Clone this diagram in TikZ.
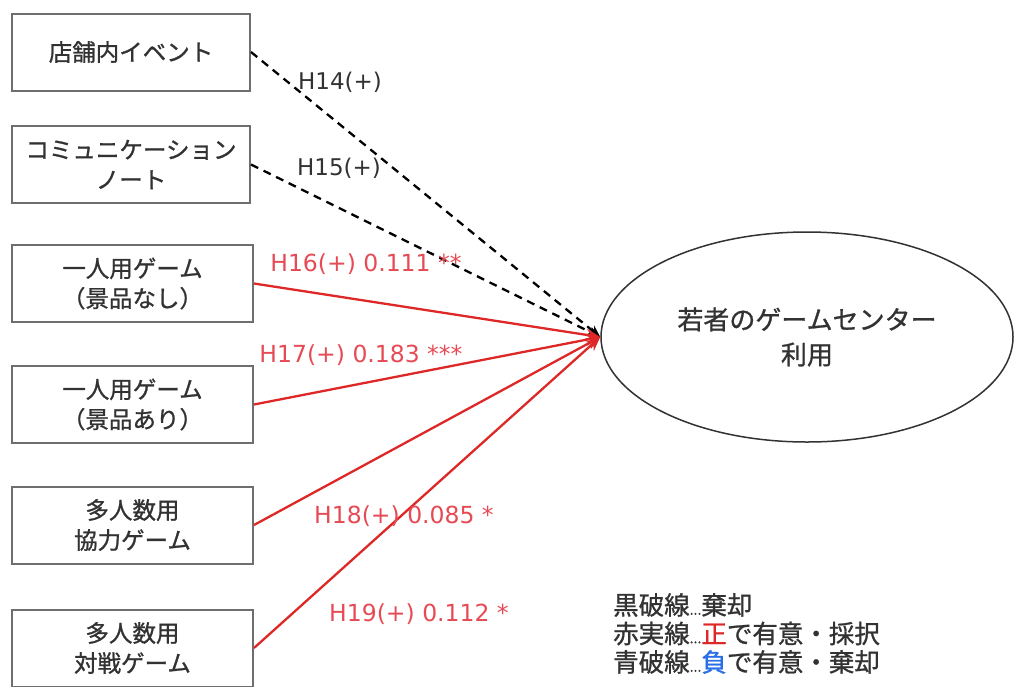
\documentclass[tikz,border=0pt]{standalone}
\usepackage{fontspec}
\setmainfont{Noto Sans CJK JP}[FakeBold=1]
\newfontfamily\lab{DejaVu Sans}
\usetikzlibrary{arrows.meta,shapes.geometric}
\definecolor{boxgray}{RGB}{110,110,110}
\definecolor{txtgray}{RGB}{50,50,50}
\definecolor{lred}{RGB}{222,40,40}
\definecolor{tred}{RGB}{230,75,85}
\definecolor{lblue}{RGB}{40,110,230}
\tikzset{
  factor/.style={draw=boxgray, line width=2pt, fill=white, text=txtgray,
    minimum width=241pt, minimum height=77pt, inner sep=0pt, align=center,
    font=\fontsize{23.5}{30}\selectfont},
  target/.style={ellipse, draw=txtgray, line width=1.5pt, text=txtgray,
    minimum width=412pt, minimum height=210pt, align=center,
    font=\fontsize{26}{35}\selectfont},
  rejline/.style={draw=black, line width=2.3pt, dash pattern=on 8pt off 6pt, -{Stealth[length=12pt,width=10pt]}},
  sigline/.style={draw=lred, line width=2.3pt, -{Stealth[length=14pt,width=12pt]}},
  blab/.style={text=txtgray, font=\lab\fontsize{23}{26}\selectfont, inner sep=1pt},
  rlab/.style={text=tred, font=\lab\fontsize{23.5}{26}\selectfont, inner sep=1pt},
  legend/.style={text=txtgray, align=left, anchor=north west, inner sep=0pt,
    font=\fontsize{25.5}{28.5}\selectfont}
}
\begin{document}
\begin{tikzpicture}[x=1pt,y=-1pt]
\useasboundingbox (0,0) rectangle (1016,686);
\node[factor, minimum width=238pt] (b1) at (131,52) {店舗内イベント};
\node[factor, minimum width=238pt] (b2) at (131,164.5) {コミュニケーション\\ノート};
\node[factor] (b3) at (132.5,283.5) {一人用ゲーム\\（景品なし）};
\node[factor] (b4) at (132.5,404.5) {一人用ゲーム\\（景品あり）};
\node[factor] (b5) at (132.5,525) {多人数用\\協力ゲーム};
\node[factor] (b6) at (132.5,648) {多人数用\\対戦ゲーム};
\node[target] (e) at (807,337) {若者のゲームセンター\\利用};

\draw[rejline] (b1.east) -- (e.west);
\draw[rejline] (b2.east) -- (e.west);
\draw[sigline] (b3.east) -- (e.west);
\draw[sigline] (b4.east) -- (e.west);
\draw[sigline] (b5.east) -- (e.west);
\draw[sigline] (b6.east) -- (e.west);

\node[blab] (l14) at (340,82) {H14(+)};
\node[blab] (l15) at (339,168) {H15(+)};
\node[rlab] (l16) at (366,264) {H16(+) 0.111 **};
\node[rlab] (l17) at (361,355) {H17(+) 0.183 ***};
\node[rlab] (l18) at (404,516) {H18(+) 0.085 *};
\node[rlab] (l19) at (419,614) {H19(+) 0.112 *};

\node[legend] (leg) at (613,593) {黒破線{\fontsize{14}{14}\selectfont ...}棄却\\
赤実線{\fontsize{14}{14}\selectfont ...}\textcolor{lred}{正}で有意・採択\\
青破線{\fontsize{14}{14}\selectfont ...}\textcolor{lblue}{負}で有意・棄却};
\end{tikzpicture}
\end{document}
